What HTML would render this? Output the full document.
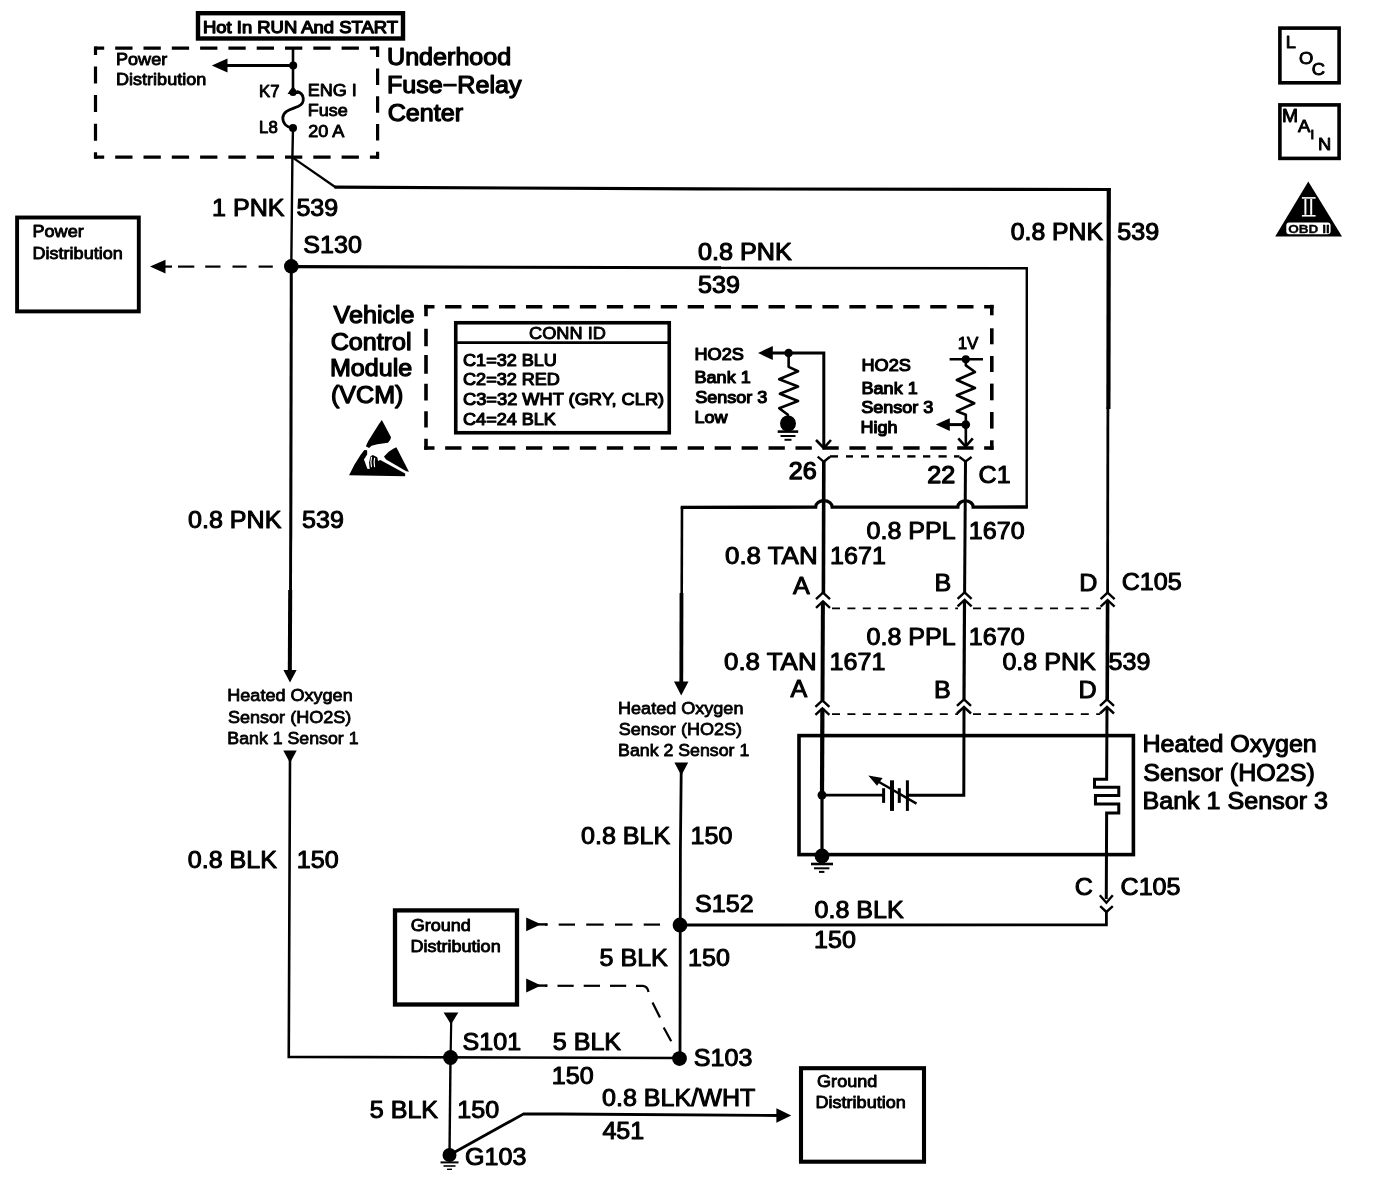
<!DOCTYPE html>
<html><head><meta charset="utf-8"><title>HO2S Bank 1 Sensor 3 wiring schematic</title>
<style>
html,body{margin:0;padding:0;background:#fff;}
svg{display:block;filter:grayscale(1);}
svg text{font-family:"Liberation Sans",sans-serif;}
</style></head>
<body>
<svg width="1376" height="1180" viewBox="0 0 1376 1180">
<rect x="0" y="0" width="1376" height="1180" fill="#fff" stroke="none"/>
<g stroke="#000" fill="none" font-family="Liberation Sans, sans-serif">
<rect x="198" y="13.2" width="205" height="25.3" stroke-width="4.4" fill="none"/>
<text x="202.99" y="32.70" font-size="17.39" fill="#000" stroke-width="1.25" stroke-linejoin="round" textLength="194.94" lengthAdjust="spacingAndGlyphs">Hot In RUN And START</text>
<line x1="94.6" y1="48.2" x2="379" y2="48.2" stroke-width="3.2" stroke-dasharray="17.3 11.0" stroke-dashoffset="7.700000000000001"/>
<line x1="94.6" y1="157.2" x2="379" y2="157.2" stroke-width="3.2" stroke-dasharray="17.3 11.0" stroke-dashoffset="7.700000000000001"/>
<line x1="95.5" y1="46.6" x2="95.5" y2="158.8" stroke-width="3.2" stroke-dasharray="17 11.6" stroke-dashoffset="8.7"/>
<line x1="377.6" y1="46.6" x2="377.6" y2="158.8" stroke-width="3.2" stroke-dasharray="16.5 11.3" stroke-dashoffset="6.0"/>
<text x="387.06" y="65.00" font-size="23.77" fill="#000" stroke-width="1.25" stroke-linejoin="round" textLength="124.16" lengthAdjust="spacingAndGlyphs">Underhood</text>
<text x="386.94" y="93.00" font-size="23.77" fill="#000" stroke-width="1.25" stroke-linejoin="round" textLength="134.60" lengthAdjust="spacingAndGlyphs">Fuse−Relay</text>
<text x="387.73" y="120.50" font-size="23.77" fill="#000" stroke-width="1.25" stroke-linejoin="round" textLength="75.31" lengthAdjust="spacingAndGlyphs">Center</text>
<text x="116.02" y="64.80" font-size="17.1" fill="#000" stroke-width="0.9" stroke-linejoin="round" textLength="51.16" lengthAdjust="spacingAndGlyphs">Power</text>
<text x="116.02" y="84.70" font-size="17.1" fill="#000" stroke-width="0.9" stroke-linejoin="round" textLength="90.28" lengthAdjust="spacingAndGlyphs">Distribution</text>
<text x="259.13" y="96.70" font-size="15.85" fill="#000" stroke-width="0.9" stroke-linejoin="round" textLength="20.46" lengthAdjust="spacingAndGlyphs">K7</text>
<text x="259.13" y="133.40" font-size="15.85" fill="#000" stroke-width="0.9" stroke-linejoin="round" textLength="18.61" lengthAdjust="spacingAndGlyphs">L8</text>
<text x="307.72" y="96.00" font-size="17.1" fill="#000" stroke-width="0.9" stroke-linejoin="round" textLength="49.14" lengthAdjust="spacingAndGlyphs">ENG I</text>
<text x="307.72" y="116.30" font-size="17.1" fill="#000" stroke-width="0.9" stroke-linejoin="round" textLength="40.13" lengthAdjust="spacingAndGlyphs">Fuse</text>
<text x="308.29" y="136.60" font-size="17.1" fill="#000" stroke-width="0.9" stroke-linejoin="round" textLength="36.13" lengthAdjust="spacingAndGlyphs">20 A</text>
<line x1="226" y1="65.6" x2="293" y2="65.6" stroke-width="3"/>
<polygon points="211.8,65.6 227.5,58.6 227.5,72.6" fill="#000" stroke="none"/>
<circle cx="293.2" cy="65.4" r="4" fill="#000" stroke="none"/>
<polygon points="287.5,94 293,86 298.6,94" fill="#000" stroke="none"/>
<circle cx="293" cy="92.5" r="3.6" fill="#000" stroke="none"/>
<path d="M296.5,91.5 C304.5,93 306,103 298,106.5 C292,109 283,110.5 282.8,118 C282.8,123.5 287,127 292,128" stroke-width="2.8" fill="none"/>
<circle cx="293" cy="127.9" r="4" fill="#000" stroke="none"/>
<line x1="293" y1="48" x2="293" y2="91" stroke-width="2.6"/>
<polyline points="293,128 292.4,157.4 291.3,266.4 291,527 290,671" stroke-width="2.4" fill="none"/>
<line x1="291.2" y1="266" x2="290.6" y2="592" stroke-width="2.8"/>
<line x1="290.2" y1="590" x2="289.8" y2="671" stroke-width="4"/>
<polygon points="290,682.5 283.4,670 296.6,670" fill="#000" stroke="none"/>
<line x1="292.4" y1="157.4" x2="335.5" y2="187.2" stroke-width="2.3"/>
<polyline points="334.5,187.2 700,188.9 1110.6,189.5" stroke-width="3.2" fill="none"/>
<line x1="1108.8" y1="188" x2="1108.4" y2="409" stroke-width="4.2"/>
<line x1="1107.9" y1="407" x2="1107.6" y2="594" stroke-width="2.8"/>
<circle cx="291.3" cy="266.4" r="7.3" fill="#000" stroke="none"/>
<line x1="291.3" y1="266.6" x2="721" y2="267.8" stroke-width="3.1"/>
<polyline points="720,267.9 1026.8,268.3 1026.7,507" stroke-width="2.4" fill="none"/>
<polygon points="150,266.6 165.5,259.8 165.5,273.4" fill="#000" stroke="none"/>
<line x1="165" y1="266.6" x2="172" y2="266.6" stroke-width="2.2"/>
<line x1="178" y1="266.6" x2="194.3" y2="266.6" stroke-width="2.2"/>
<line x1="205.2" y1="266.6" x2="220.5" y2="266.6" stroke-width="2.2"/>
<line x1="232.5" y1="266.6" x2="246.6" y2="266.6" stroke-width="2.2"/>
<line x1="258.6" y1="266.6" x2="272.8" y2="266.6" stroke-width="2.2"/>
<rect x="17.1" y="217.5" width="121.7" height="93.9" stroke-width="3.9" fill="none"/>
<text x="32.52" y="237.00" font-size="17.1" fill="#000" stroke-width="0.9" stroke-linejoin="round" textLength="51.16" lengthAdjust="spacingAndGlyphs">Power</text>
<text x="32.52" y="258.70" font-size="17.1" fill="#000" stroke-width="0.9" stroke-linejoin="round" textLength="90.28" lengthAdjust="spacingAndGlyphs">Distribution</text>
<text x="212.09" y="216.30" font-size="23.77" fill="#000" stroke-width="1.0" stroke-linejoin="round" textLength="72.53" lengthAdjust="spacingAndGlyphs">1 PNK</text>
<text x="296.40" y="216.30" font-size="23.77" fill="#000" stroke-width="1.0" stroke-linejoin="round" textLength="41.87" lengthAdjust="spacingAndGlyphs">539</text>
<text x="303.26" y="253.40" font-size="23.77" fill="#000" stroke-width="1.0" stroke-linejoin="round" textLength="58.60" lengthAdjust="spacingAndGlyphs">S130</text>
<text x="698.02" y="260.00" font-size="23.77" fill="#000" stroke-width="1.1" stroke-linejoin="round" textLength="93.77" lengthAdjust="spacingAndGlyphs">0.8 PNK</text>
<text x="698.00" y="292.50" font-size="23.77" fill="#000" stroke-width="1.1" stroke-linejoin="round" textLength="41.87" lengthAdjust="spacingAndGlyphs">539</text>
<text x="1010.78" y="239.50" font-size="23.77" fill="#000" stroke-width="1.1" stroke-linejoin="round" textLength="92.25" lengthAdjust="spacingAndGlyphs">0.8 PNK</text>
<text x="1117.25" y="239.50" font-size="23.77" fill="#000" stroke-width="1.1" stroke-linejoin="round" textLength="41.87" lengthAdjust="spacingAndGlyphs">539</text>
<text x="188.02" y="527.50" font-size="23.77" fill="#000" stroke-width="1.0" stroke-linejoin="round" textLength="93.45" lengthAdjust="spacingAndGlyphs">0.8 PNK</text>
<text x="302.00" y="527.50" font-size="23.77" fill="#000" stroke-width="1.0" stroke-linejoin="round" textLength="41.87" lengthAdjust="spacingAndGlyphs">539</text>
<text x="333.64" y="322.50" font-size="23.77" fill="#000" stroke-width="1.25" stroke-linejoin="round" textLength="80.92" lengthAdjust="spacingAndGlyphs">Vehicle</text>
<text x="330.73" y="349.50" font-size="23.77" fill="#000" stroke-width="1.25" stroke-linejoin="round" textLength="80.89" lengthAdjust="spacingAndGlyphs">Control</text>
<text x="329.94" y="376.00" font-size="23.77" fill="#000" stroke-width="1.25" stroke-linejoin="round" textLength="82.30" lengthAdjust="spacingAndGlyphs">Module</text>
<text x="330.94" y="402.50" font-size="23.77" fill="#000" stroke-width="1.25" stroke-linejoin="round" textLength="72.47" lengthAdjust="spacingAndGlyphs">(VCM)</text>
<line x1="424.2" y1="306.8" x2="993.6" y2="306.8" stroke-width="3.6" stroke-dasharray="16.3 10.65" stroke-dashoffset="6.0"/>
<line x1="424.2" y1="448" x2="993.6" y2="448" stroke-width="3.6" stroke-dasharray="16.3 10.65" stroke-dashoffset="6.0"/>
<line x1="426" y1="304.8" x2="426" y2="316.25" stroke-width="3.6"/>
<line x1="426" y1="328.75" x2="426" y2="346.25" stroke-width="3.6"/>
<line x1="426" y1="355" x2="426" y2="373.75" stroke-width="3.6"/>
<line x1="426" y1="383.75" x2="426" y2="400.5" stroke-width="3.6"/>
<line x1="426" y1="411.25" x2="426" y2="427.5" stroke-width="3.6"/>
<line x1="426" y1="438.75" x2="426" y2="449.8" stroke-width="3.6"/>
<line x1="991.8" y1="304.8" x2="991.8" y2="315.3" stroke-width="3.6"/>
<line x1="991.8" y1="328.3" x2="991.8" y2="344.3" stroke-width="3.6"/>
<line x1="991.8" y1="356" x2="991.8" y2="372" stroke-width="3.6"/>
<line x1="991.8" y1="383.6" x2="991.8" y2="400.3" stroke-width="3.6"/>
<line x1="991.8" y1="412" x2="991.8" y2="428.6" stroke-width="3.6"/>
<line x1="991.8" y1="440.3" x2="991.8" y2="449.8" stroke-width="3.6"/>
<rect x="455.75" y="322.75" width="213.5" height="110" stroke-width="3.6" fill="none"/>
<line x1="455" y1="342.6" x2="670" y2="342.6" stroke-width="2.6"/>
<text x="529.08" y="339.00" font-size="17.1" fill="#000" stroke-width="0.9" stroke-linejoin="round" textLength="76.79" lengthAdjust="spacingAndGlyphs">CONN ID</text>
<text x="463.08" y="365.50" font-size="17.1" fill="#000" stroke-width="1.15" stroke-linejoin="round" textLength="93.81" lengthAdjust="spacingAndGlyphs">C1=32 BLU</text>
<text x="463.08" y="385.00" font-size="17.1" fill="#000" stroke-width="1.15" stroke-linejoin="round" textLength="96.81" lengthAdjust="spacingAndGlyphs">C2=32 RED</text>
<text x="463.07" y="405.00" font-size="17.1" fill="#000" stroke-width="1.15" stroke-linejoin="round" textLength="201.06" lengthAdjust="spacingAndGlyphs">C3=32 WHT (GRY, CLR)</text>
<text x="463.08" y="425.00" font-size="17.1" fill="#000" stroke-width="1.15" stroke-linejoin="round" textLength="92.81" lengthAdjust="spacingAndGlyphs">C4=24 BLK</text>
<polygon points="381.87,419.98 391.02,437.22 390.26,439.66 387.97,442.72 377.29,444.24 371.57,445.77 369.05,448.05 365.85,446.15 368.14,441.19 371.57,435.85 378.82,424.26" fill="#000" stroke="none"/>
<polygon points="396.36,447.14 408.95,471.7 406.28,471.32 386.06,459.5 384.0,456.6 388.73,451.87 393.31,448.82" fill="#000" stroke="none"/>
<polygon points="364.32,449.96 367.15,450.34 367.15,454.54 363.94,459.5 367.38,468.65 369.66,469.03 369.05,462.55 370.43,456.45 372.72,454.92 377.29,457.21 378.05,461.02 380.34,460.11 405.13,473.61 405.13,476.28 349.07,475.13 354.41,464.84 360.51,454.92" fill="#000" stroke="none"/>
<path d="M371.57,456.83 Q370.05,462.55 371.57,467.12" stroke="#fff" stroke-width="1.2" fill="none"/>
<path d="M374.62,457.97 Q373.48,462.55 374.62,467.12" stroke="#fff" stroke-width="1.2" fill="none"/>
<text x="694.51" y="359.60" font-size="17.1" fill="#000" stroke-width="1.15" stroke-linejoin="round" textLength="49.32" lengthAdjust="spacingAndGlyphs">HO2S</text>
<text x="694.52" y="382.80" font-size="17.1" fill="#000" stroke-width="1.15" stroke-linejoin="round" textLength="56.19" lengthAdjust="spacingAndGlyphs">Bank 1</text>
<text x="695.18" y="403.20" font-size="17.1" fill="#000" stroke-width="1.15" stroke-linejoin="round" textLength="72.24" lengthAdjust="spacingAndGlyphs">Sensor 3</text>
<text x="694.52" y="422.80" font-size="17.1" fill="#000" stroke-width="1.15" stroke-linejoin="round" textLength="33.11" lengthAdjust="spacingAndGlyphs">Low</text>
<polygon points="758,353 772.8,346 772.8,360" fill="#000" stroke="none"/>
<polyline points="771,353 823.8,353 823.8,447" stroke-width="3" fill="none"/>
<circle cx="788.6" cy="353" r="4.3" fill="#000" stroke="none"/>
<polyline points="788.63,353.05 788.63,366.86 798.08,371.22 779.19,379.22 798.08,386.48 779.91,393.75 798.08,401.02 779.19,408.28 787.91,414.83 787.91,423.55" stroke-width="2.6" fill="none" stroke-linejoin="round"/>
<circle cx="788" cy="423.5" r="8" fill="#000" stroke="none"/>
<line x1="777.7" y1="431.6" x2="798.2" y2="431.6" stroke-width="2.6"/>
<line x1="780.5" y1="436" x2="795.5" y2="436" stroke-width="2"/>
<line x1="784.5" y1="439.8" x2="791.5" y2="439.8" stroke-width="2"/>
<polyline points="816,440 823.8,448 831,440" stroke-width="2.6" fill="none"/>
<text x="957.71" y="348.70" font-size="16.04" fill="#000" stroke-width="0.9" stroke-linejoin="round" textLength="20.71" lengthAdjust="spacingAndGlyphs">1V</text>
<text x="861.51" y="370.50" font-size="17.1" fill="#000" stroke-width="1.15" stroke-linejoin="round" textLength="49.32" lengthAdjust="spacingAndGlyphs">HO2S</text>
<text x="861.52" y="393.80" font-size="17.1" fill="#000" stroke-width="1.15" stroke-linejoin="round" textLength="56.19" lengthAdjust="spacingAndGlyphs">Bank 1</text>
<text x="861.18" y="413.40" font-size="17.1" fill="#000" stroke-width="1.15" stroke-linejoin="round" textLength="72.24" lengthAdjust="spacingAndGlyphs">Sensor 3</text>
<text x="860.52" y="433.00" font-size="17.1" fill="#000" stroke-width="1.15" stroke-linejoin="round" textLength="37.12" lengthAdjust="spacingAndGlyphs">High</text>
<line x1="949.6" y1="359.2" x2="983" y2="359.2" stroke-width="2.6"/>
<circle cx="965.8" cy="359.2" r="4" fill="#000" stroke="none"/>
<polyline points="965.84,359.16 965.84,365.41 975.0,371.95 956.83,379.94 975.0,387.94 956.83,395.2 974.27,403.2 956.83,411.19 965.84,414.83 965.84,446.08" stroke-width="2.6" fill="none" stroke-linejoin="round"/>
<circle cx="965.8" cy="424.6" r="4.3" fill="#000" stroke="none"/>
<line x1="948" y1="424.6" x2="965.8" y2="424.6" stroke-width="3"/>
<polygon points="935.8,424.6 949.8,418.2 949.8,431" fill="#000" stroke="none"/>
<polyline points="958.3,438.4 965.6,446.5 972.8,438.4" stroke-width="2.6" fill="none"/>
<line x1="830" y1="456.4" x2="838" y2="456.4" stroke-width="2.4"/>
<line x1="846" y1="456.4" x2="853" y2="456.4" stroke-width="2.4"/>
<line x1="861" y1="456.4" x2="869" y2="456.4" stroke-width="2.4"/>
<line x1="877" y1="456.4" x2="884" y2="456.4" stroke-width="2.4"/>
<line x1="892" y1="456.4" x2="900" y2="456.4" stroke-width="2.4"/>
<line x1="907.3" y1="456.4" x2="915.5" y2="456.4" stroke-width="2.4"/>
<line x1="923" y1="456.4" x2="930.3" y2="456.4" stroke-width="2.4"/>
<line x1="938.5" y1="456.4" x2="946.7" y2="456.4" stroke-width="2.4"/>
<line x1="954" y1="456.4" x2="959.5" y2="456.4" stroke-width="2.4"/>
<polyline points="817.7,456.7 823.8,461.8 830,456.7" stroke-width="2.4" fill="none"/>
<polyline points="959.5,457 965.5,461.4 971.6,457" stroke-width="2.4" fill="none"/>
<text x="788.74" y="479.20" font-size="23.77" fill="#000" stroke-width="1.25" stroke-linejoin="round" textLength="27.91" lengthAdjust="spacingAndGlyphs">26</text>
<text x="927.34" y="482.60" font-size="23.77" fill="#000" stroke-width="1.25" stroke-linejoin="round" textLength="27.91" lengthAdjust="spacingAndGlyphs">22</text>
<text x="978.53" y="482.60" font-size="23.77" fill="#000" stroke-width="1.0" stroke-linejoin="round" textLength="32.08" lengthAdjust="spacingAndGlyphs">C1</text>
<path d="M1027.9,507 L973.2,507.1 A7.7,6.3 0 0 0 957.8,507.1 L832.2,507.2 A8.2,6.5 0 0 0 815.6,507.2 L680.7,507.3" stroke-width="3.3" fill="none"/>
<line x1="682" y1="507" x2="681.7" y2="595" stroke-width="2.6"/>
<line x1="681.5" y1="593" x2="681.3" y2="683" stroke-width="3.8"/>
<polygon points="681.2,695.4 674,681.6 688.5,681.6" fill="#000" stroke="none"/>
<line x1="823.8" y1="461.5" x2="823.4" y2="593" stroke-width="3.6"/>
<line x1="965.5" y1="461.2" x2="964.6" y2="593" stroke-width="3"/>
<polyline points="816,599.2 823,592.7 830,599.2" stroke-width="2.4" fill="none"/>
<polyline points="816,607.9 823,601.4 830,607.9" stroke-width="2.4" fill="none"/>
<polyline points="957.6,598.9 964.6,592.4 971.6,598.9" stroke-width="2.4" fill="none"/>
<polyline points="957.6,606.4 964.6,599.9 971.6,606.4" stroke-width="2.4" fill="none"/>
<polyline points="1100.6,599.1 1107.6,592.6 1114.6,599.1" stroke-width="2.4" fill="none"/>
<polyline points="1100.6,606.7 1107.6,600.2 1114.6,606.7" stroke-width="2.4" fill="none"/>
<line x1="832" y1="608.3" x2="958" y2="608.3" stroke-width="1.8" stroke-dasharray="8 7.4"/>
<line x1="973" y1="608.3" x2="1101" y2="608.3" stroke-width="1.8" stroke-dasharray="8 7.4"/>
<line x1="822.9" y1="601.6" x2="822.5" y2="700.5" stroke-width="4"/>
<line x1="964.5" y1="600" x2="964" y2="699.5" stroke-width="3.2"/>
<line x1="1107.6" y1="600.4" x2="1107.2" y2="699.5" stroke-width="3.6"/>
<polyline points="815.4,706.8 822.4,700.3 829.4,706.8" stroke-width="2.4" fill="none"/>
<polyline points="815.4,714.8 822.4,708.3 829.4,714.8" stroke-width="2.4" fill="none"/>
<polyline points="957,705.8 964,699.3 971,705.8" stroke-width="2.4" fill="none"/>
<polyline points="957,713.5 964,707 971,713.5" stroke-width="2.4" fill="none"/>
<polyline points="1100,705.8 1107,699.3 1114,705.8" stroke-width="2.4" fill="none"/>
<polyline points="1100,713.5 1107,707 1114,713.5" stroke-width="2.4" fill="none"/>
<line x1="832" y1="714.2" x2="958" y2="714.2" stroke-width="1.8" stroke-dasharray="8 7.4"/>
<line x1="973" y1="714.2" x2="1100" y2="714.2" stroke-width="1.8" stroke-dasharray="8 7.4"/>
<text x="866.52" y="538.50" font-size="23.77" fill="#000" stroke-width="1.0" stroke-linejoin="round" textLength="89.29" lengthAdjust="spacingAndGlyphs">0.8 PPL</text>
<text x="968.79" y="538.50" font-size="23.77" fill="#000" stroke-width="1.0" stroke-linejoin="round" textLength="55.82" lengthAdjust="spacingAndGlyphs">1670</text>
<text x="724.99" y="564.30" font-size="23.77" fill="#000" stroke-width="1.0" stroke-linejoin="round" textLength="92.62" lengthAdjust="spacingAndGlyphs">0.8 TAN</text>
<text x="830.09" y="564.30" font-size="23.77" fill="#000" stroke-width="1.0" stroke-linejoin="round" textLength="55.82" lengthAdjust="spacingAndGlyphs">1671</text>
<text x="792.95" y="594.00" font-size="23.77" fill="#000" stroke-width="1.0" stroke-linejoin="round" textLength="16.74" lengthAdjust="spacingAndGlyphs">A</text>
<text x="934.54" y="590.50" font-size="23.77" fill="#000" stroke-width="1.0" stroke-linejoin="round" textLength="16.74" lengthAdjust="spacingAndGlyphs">B</text>
<text x="1079.24" y="591.00" font-size="23.77" fill="#000" stroke-width="1.0" stroke-linejoin="round" textLength="18.12" lengthAdjust="spacingAndGlyphs">D</text>
<text x="1121.73" y="590.00" font-size="23.77" fill="#000" stroke-width="1.0" stroke-linejoin="round" textLength="59.99" lengthAdjust="spacingAndGlyphs">C105</text>
<text x="866.52" y="644.70" font-size="23.77" fill="#000" stroke-width="1.0" stroke-linejoin="round" textLength="89.29" lengthAdjust="spacingAndGlyphs">0.8 PPL</text>
<text x="968.79" y="644.50" font-size="23.77" fill="#000" stroke-width="1.0" stroke-linejoin="round" textLength="55.82" lengthAdjust="spacingAndGlyphs">1670</text>
<text x="723.99" y="669.80" font-size="23.77" fill="#000" stroke-width="1.0" stroke-linejoin="round" textLength="92.62" lengthAdjust="spacingAndGlyphs">0.8 TAN</text>
<text x="829.59" y="670.00" font-size="23.77" fill="#000" stroke-width="1.0" stroke-linejoin="round" textLength="55.82" lengthAdjust="spacingAndGlyphs">1671</text>
<text x="1002.42" y="669.80" font-size="23.77" fill="#000" stroke-width="1.0" stroke-linejoin="round" textLength="93.45" lengthAdjust="spacingAndGlyphs">0.8 PNK</text>
<text x="1108.60" y="669.80" font-size="23.77" fill="#000" stroke-width="1.0" stroke-linejoin="round" textLength="41.87" lengthAdjust="spacingAndGlyphs">539</text>
<text x="790.55" y="696.50" font-size="23.77" fill="#000" stroke-width="1.0" stroke-linejoin="round" textLength="16.74" lengthAdjust="spacingAndGlyphs">A</text>
<text x="933.94" y="698.00" font-size="23.77" fill="#000" stroke-width="1.0" stroke-linejoin="round" textLength="16.74" lengthAdjust="spacingAndGlyphs">B</text>
<text x="1078.54" y="698.00" font-size="23.77" fill="#000" stroke-width="1.0" stroke-linejoin="round" textLength="18.12" lengthAdjust="spacingAndGlyphs">D</text>
<rect x="799" y="735.6" width="334.4" height="119" stroke-width="3.6" fill="none"/>
<text x="1142.44" y="751.80" font-size="23.77" fill="#000" stroke-width="1.05" stroke-linejoin="round" textLength="174.37" lengthAdjust="spacingAndGlyphs">Heated Oxygen</text>
<text x="1143.36" y="781.00" font-size="23.77" fill="#000" stroke-width="1.05" stroke-linejoin="round" textLength="171.52" lengthAdjust="spacingAndGlyphs">Sensor (HO2S)</text>
<text x="1142.44" y="809.40" font-size="23.77" fill="#000" stroke-width="1.05" stroke-linejoin="round" textLength="185.54" lengthAdjust="spacingAndGlyphs">Bank 1 Sensor 3</text>
<line x1="822.4" y1="708.5" x2="822" y2="795" stroke-width="4.2"/>
<line x1="822" y1="795" x2="822" y2="856" stroke-width="3.2"/>
<circle cx="822" cy="795.1" r="4.5" fill="#000" stroke="none"/>
<circle cx="822" cy="855.9" r="7.4" fill="#000" stroke="none"/>
<line x1="811" y1="864" x2="833" y2="864" stroke-width="2.6"/>
<line x1="814" y1="868.3" x2="829.4" y2="868.3" stroke-width="2"/>
<line x1="819" y1="871.9" x2="824.4" y2="871.9" stroke-width="2"/>
<line x1="822" y1="795.2" x2="883" y2="795.2" stroke-width="2.8"/>
<line x1="883.6" y1="788.2" x2="883.6" y2="802.9" stroke-width="3"/>
<line x1="892" y1="780.3" x2="892" y2="810.9" stroke-width="4"/>
<line x1="899.3" y1="788.2" x2="899.3" y2="802.9" stroke-width="3"/>
<line x1="907.4" y1="780.3" x2="907.4" y2="810.9" stroke-width="3"/>
<polyline points="907.4,795.2 963.8,795.2 964,707.5" stroke-width="3" fill="none"/>
<line x1="916.5" y1="803.6" x2="876" y2="780.3" stroke-width="2.4"/>
<polygon points="868.3,775.6 882.6,778 877,785.8" fill="#000" stroke="none"/>
<polyline points="1107,707.5 1106.64,779.33 1094.51,779.33 1094.51,787.16 1118.77,787.16 1118.77,795.56 1095.45,795.56 1095.45,803.96 1118.77,803.96 1118.77,812.91 1106.64,812.91 1106.27,899.1" stroke-width="3" fill="none" stroke-linejoin="miter"/>
<polyline points="1099.8,895.2 1106.4,902.7 1112.8,895.2" stroke-width="2.4" fill="none"/>
<polyline points="1100.2,906.2 1106.4,912 1112.8,906.2" stroke-width="2.4" fill="none"/>
<polyline points="1106.4,912 1106.4,924.9 680,925" stroke-width="2.8" fill="none"/>
<text x="1074.73" y="894.60" font-size="23.77" fill="#000" stroke-width="1.0" stroke-linejoin="round" textLength="18.12" lengthAdjust="spacingAndGlyphs">C</text>
<text x="1120.53" y="894.60" font-size="23.77" fill="#000" stroke-width="1.0" stroke-linejoin="round" textLength="59.99" lengthAdjust="spacingAndGlyphs">C105</text>
<text x="227.27" y="701.25" font-size="17.1" fill="#000" stroke-width="0.8" stroke-linejoin="round" textLength="125.42" lengthAdjust="spacingAndGlyphs">Heated Oxygen</text>
<text x="227.93" y="722.50" font-size="17.1" fill="#000" stroke-width="0.8" stroke-linejoin="round" textLength="123.38" lengthAdjust="spacingAndGlyphs">Sensor (HO2S)</text>
<text x="227.29" y="743.75" font-size="17.1" fill="#000" stroke-width="0.8" stroke-linejoin="round" textLength="131.32" lengthAdjust="spacingAndGlyphs">Bank 1 Sensor 1</text>
<polygon points="283.3,750.5 296.7,750.5 290,763" fill="#000" stroke="none"/>
<polyline points="290,760 288.75,1056.9 679.5,1058" stroke-width="2.6" fill="none"/>
<text x="187.77" y="867.50" font-size="23.77" fill="#000" stroke-width="1.0" stroke-linejoin="round" textLength="89.29" lengthAdjust="spacingAndGlyphs">0.8 BLK</text>
<text x="296.84" y="867.50" font-size="23.77" fill="#000" stroke-width="1.0" stroke-linejoin="round" textLength="41.87" lengthAdjust="spacingAndGlyphs">150</text>
<text x="618.02" y="713.75" font-size="17.1" fill="#000" stroke-width="0.8" stroke-linejoin="round" textLength="125.42" lengthAdjust="spacingAndGlyphs">Heated Oxygen</text>
<text x="618.68" y="735.00" font-size="17.1" fill="#000" stroke-width="0.8" stroke-linejoin="round" textLength="123.38" lengthAdjust="spacingAndGlyphs">Sensor (HO2S)</text>
<text x="618.04" y="756.25" font-size="17.1" fill="#000" stroke-width="0.8" stroke-linejoin="round" textLength="131.32" lengthAdjust="spacingAndGlyphs">Bank 2 Sensor 1</text>
<polygon points="674.4,762.5 688.2,762.5 681.3,775.5" fill="#000" stroke="none"/>
<polyline points="681.2,772 680.4,850 680,1058.5" stroke-width="2.8" fill="none"/>
<text x="581.02" y="843.75" font-size="23.77" fill="#000" stroke-width="1.0" stroke-linejoin="round" textLength="89.29" lengthAdjust="spacingAndGlyphs">0.8 BLK</text>
<text x="690.59" y="843.75" font-size="23.77" fill="#000" stroke-width="1.0" stroke-linejoin="round" textLength="41.87" lengthAdjust="spacingAndGlyphs">150</text>
<circle cx="680" cy="925" r="7.4" fill="#000" stroke="none"/>
<circle cx="679.5" cy="1058.6" r="7.4" fill="#000" stroke="none"/>
<circle cx="450.5" cy="1057.5" r="7.4" fill="#000" stroke="none"/>
<circle cx="449.5" cy="1155" r="7" fill="#000" stroke="none"/>
<text x="695.11" y="911.75" font-size="23.77" fill="#000" stroke-width="1.0" stroke-linejoin="round" textLength="58.60" lengthAdjust="spacingAndGlyphs">S152</text>
<text x="814.52" y="918.00" font-size="23.77" fill="#000" stroke-width="1.0" stroke-linejoin="round" textLength="89.29" lengthAdjust="spacingAndGlyphs">0.8 BLK</text>
<text x="814.09" y="948.00" font-size="23.77" fill="#000" stroke-width="1.0" stroke-linejoin="round" textLength="41.87" lengthAdjust="spacingAndGlyphs">150</text>
<text x="599.50" y="965.50" font-size="23.77" fill="#000" stroke-width="1.0" stroke-linejoin="round" textLength="68.36" lengthAdjust="spacingAndGlyphs">5 BLK</text>
<text x="688.09" y="965.50" font-size="23.77" fill="#000" stroke-width="1.0" stroke-linejoin="round" textLength="41.87" lengthAdjust="spacingAndGlyphs">150</text>
<text x="462.61" y="1050.00" font-size="23.77" fill="#000" stroke-width="1.0" stroke-linejoin="round" textLength="58.60" lengthAdjust="spacingAndGlyphs">S101</text>
<text x="552.75" y="1050.00" font-size="23.77" fill="#000" stroke-width="1.0" stroke-linejoin="round" textLength="68.36" lengthAdjust="spacingAndGlyphs">5 BLK</text>
<text x="551.84" y="1083.75" font-size="23.77" fill="#000" stroke-width="1.0" stroke-linejoin="round" textLength="41.87" lengthAdjust="spacingAndGlyphs">150</text>
<text x="693.86" y="1066.25" font-size="23.77" fill="#000" stroke-width="1.0" stroke-linejoin="round" textLength="58.60" lengthAdjust="spacingAndGlyphs">S103</text>
<text x="369.75" y="1117.50" font-size="23.77" fill="#000" stroke-width="1.0" stroke-linejoin="round" textLength="68.36" lengthAdjust="spacingAndGlyphs">5 BLK</text>
<text x="457.34" y="1117.50" font-size="23.77" fill="#000" stroke-width="1.0" stroke-linejoin="round" textLength="41.87" lengthAdjust="spacingAndGlyphs">150</text>
<text x="602.02" y="1106.25" font-size="23.77" fill="#000" stroke-width="1.0" stroke-linejoin="round" textLength="153.39" lengthAdjust="spacingAndGlyphs">0.8 BLK/WHT</text>
<text x="602.42" y="1138.75" font-size="23.77" fill="#000" stroke-width="1.0" stroke-linejoin="round" textLength="41.87" lengthAdjust="spacingAndGlyphs">451</text>
<text x="464.99" y="1165.00" font-size="23.77" fill="#000" stroke-width="1.0" stroke-linejoin="round" textLength="61.38" lengthAdjust="spacingAndGlyphs">G103</text>
<rect x="395" y="910.4" width="122" height="94.1" stroke-width="4.3" fill="none"/>
<text x="410.69" y="930.80" font-size="17.1" fill="#000" stroke-width="0.9" stroke-linejoin="round" textLength="60.20" lengthAdjust="spacingAndGlyphs">Ground</text>
<text x="410.42" y="952.00" font-size="17.1" fill="#000" stroke-width="0.9" stroke-linejoin="round" textLength="90.28" lengthAdjust="spacingAndGlyphs">Distribution</text>
<polygon points="526.2,917.4 526.2,931.2 541,924.3" fill="#000" stroke="none"/>
<polygon points="526.2,978.6 526.2,992.4 541,985.5" fill="#000" stroke="none"/>
<line x1="538" y1="924.4" x2="547.5" y2="924.4" stroke-width="2.4"/>
<line x1="538" y1="985.6" x2="547.5" y2="985.6" stroke-width="2.4"/>
<line x1="545" y1="924.6" x2="547.5" y2="924.6" stroke-width="2.2"/>
<line x1="558.7" y1="924.6" x2="575" y2="924.6" stroke-width="2.2"/>
<line x1="586.2" y1="924.6" x2="603.7" y2="924.6" stroke-width="2.2"/>
<line x1="615" y1="924.6" x2="632.5" y2="924.6" stroke-width="2.2"/>
<line x1="643.7" y1="924.6" x2="660" y2="924.6" stroke-width="2.2"/>
<line x1="545" y1="985.8" x2="547" y2="985.8" stroke-width="2.2"/>
<line x1="557.5" y1="985.8" x2="573.7" y2="985.8" stroke-width="2.2"/>
<line x1="583.7" y1="985.8" x2="600" y2="985.8" stroke-width="2.2"/>
<line x1="610" y1="985.8" x2="626.2" y2="985.8" stroke-width="2.2"/>
<path d="M636,985.8 L643,985.9 Q647.5,986.5 648.5,992" stroke-width="2.2" fill="none"/>
<line x1="652.5" y1="1002.5" x2="660" y2="1017.5" stroke-width="2.2"/>
<line x1="663.7" y1="1027.5" x2="671.2" y2="1041.2" stroke-width="2.2"/>
<polygon points="443.6,1012.4 458.4,1012.4 451,1024.5" fill="#000" stroke="none"/>
<line x1="451.2" y1="1022" x2="450.6" y2="1057" stroke-width="2.2"/>
<line x1="450.5" y1="1057.5" x2="449.5" y2="1155" stroke-width="2.4"/>
<line x1="440.5" y1="1162.4" x2="458.5" y2="1162.4" stroke-width="2"/>
<line x1="443.5" y1="1166" x2="455.5" y2="1166" stroke-width="1.6"/>
<line x1="447" y1="1169.3" x2="452" y2="1169.3" stroke-width="1.4"/>
<polyline points="449.5,1155 523.75,1113.8 560,1114 778,1115.5" stroke-width="2.8" fill="none"/>
<polygon points="776.4,1108.2 776.4,1122.8 791.2,1115.5" fill="#000" stroke="none"/>
<rect x="801" y="1068.2" width="123" height="93.5" stroke-width="4.1" fill="none"/>
<text x="817.09" y="1087.00" font-size="17.1" fill="#000" stroke-width="0.9" stroke-linejoin="round" textLength="60.20" lengthAdjust="spacingAndGlyphs">Ground</text>
<text x="815.52" y="1108.30" font-size="17.1" fill="#000" stroke-width="0.9" stroke-linejoin="round" textLength="90.28" lengthAdjust="spacingAndGlyphs">Distribution</text>
<rect x="1279.9" y="28.1" width="59.2" height="54.7" stroke-width="3.6" fill="none"/>
<text x="1285.79" y="48.10" font-size="17.39" fill="#000" stroke-width="0.9" stroke-linejoin="round" textLength="10.21" lengthAdjust="spacingAndGlyphs">L</text>
<text x="1299.13" y="63.70" font-size="17.39" fill="#000" stroke-width="0.9" stroke-linejoin="round" textLength="14.28" lengthAdjust="spacingAndGlyphs">O</text>
<text x="1311.67" y="74.50" font-size="17.39" fill="#000" stroke-width="0.9" stroke-linejoin="round" textLength="13.25" lengthAdjust="spacingAndGlyphs">C</text>
<rect x="1279.9" y="104.9" width="59.2" height="53.5" stroke-width="3.6" fill="none"/>
<text x="1282.01" y="121.80" font-size="18.36" fill="#000" stroke-width="0.9" stroke-linejoin="round" textLength="16.14" lengthAdjust="spacingAndGlyphs">M</text>
<text x="1297.96" y="132.00" font-size="17.39" fill="#000" stroke-width="0.9" stroke-linejoin="round" textLength="12.24" lengthAdjust="spacingAndGlyphs">A</text>
<text x="1310.48" y="138.80" font-size="12.56" fill="#000" stroke-width="1.0" stroke-linejoin="round" textLength="3.68" lengthAdjust="spacingAndGlyphs">I</text>
<text x="1317.99" y="150.10" font-size="17.39" fill="#000" stroke-width="0.9" stroke-linejoin="round" textLength="13.25" lengthAdjust="spacingAndGlyphs">N</text>
<polygon points="1308.3,181.5 1342,236.4 1275.2,236.4" fill="#000" stroke="none"/>
<g stroke="#fff" fill="none"><line x1="1301.9" y1="197.9" x2="1315.6" y2="197.9" stroke-width="1.6"/><line x1="1301.9" y1="215.8" x2="1315.6" y2="215.8" stroke-width="1.6"/><line x1="1305.4" y1="199" x2="1305.4" y2="214.8" stroke-width="2"/><line x1="1311.2" y1="199" x2="1311.2" y2="214.8" stroke-width="2"/></g>
<rect x="1286.3" y="222.6" width="44.3" height="11.6" rx="3" fill="#fff" stroke="none"/>
<text x="1288.24" y="232.90" font-size="11.11" font-weight="bold" fill="#000" stroke-width="0.3" stroke-linejoin="round" textLength="41.46" lengthAdjust="spacingAndGlyphs">OBD II</text>
</g>
</svg>
</body></html>
